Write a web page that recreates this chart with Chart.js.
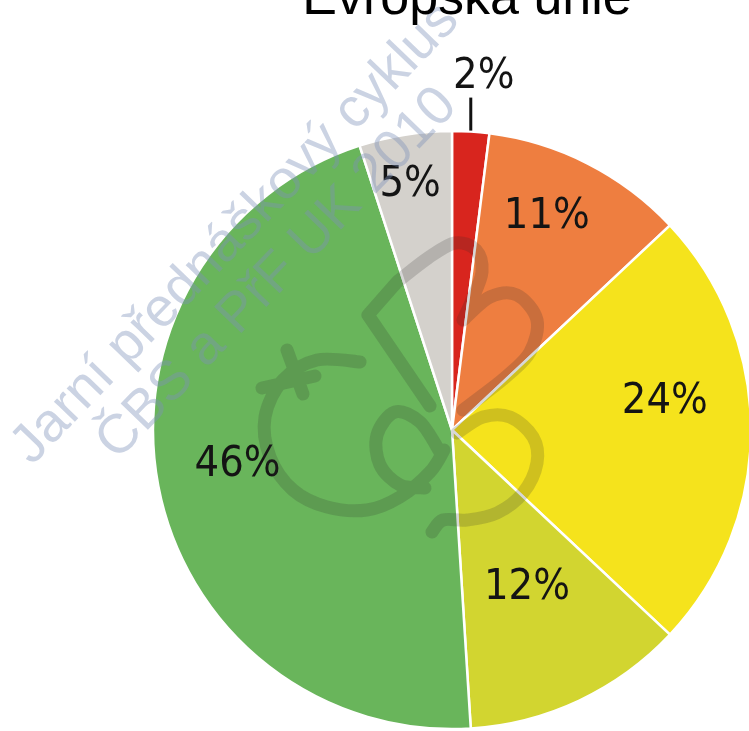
<!DOCTYPE html>
<html>
<head>
<meta charset="utf-8">
<script src="https://cdn.jsdelivr.net/npm/chart.js@4/dist/chart.umd.min.js"></script>
<style>
  html, body { margin: 0; padding: 0; background: #fff; overflow: hidden; }
  canvas { display: block; }
</style>
</head>
<body>
<canvas id="pie" width="749" height="731"></canvas>
<script>
// Data
const chartTitle = 'Evropská unie';
const categories = ['červená', 'oranžová', 'žlutá', 'žlutozelená', 'zelená', 'šedá'];
const shares = [2, 11, 24, 12, 46, 5];
const sliceColors = ['#d8251e', '#ee7e40', '#f5e31c', '#d2d530', '#69b55b', '#d4d1cc'];
const shareLabels = shares.map(v => v + '%');

// Label placement per slice: [fraction of radius, angle shift in degrees]; null = outside with leader
const labelPlacement = [null, [0.795, -3.5], [0.72, -8.7], [0.57, -0.9], [0.724, 2.8], [0.848, -0.5]];

const deg = Math.PI / 180;

function drawPct(ctx, text, cx, cy) {
  // condensed sans, vertically centred on the digits
  const size = 43;
  ctx.save();
  ctx.font = size + 'px "DejaVu Sans"';
  ctx.textAlign = 'center';
  ctx.textBaseline = 'alphabetic';
  ctx.fillStyle = '#141414';
  ctx.translate(cx, cy + size * 0.364);
  ctx.scale(0.9, 1);
  ctx.fillText(text, 0, 0);
  ctx.restore();
}

const pieLabels = {
  id: 'pieLabels',
  afterDatasetsDraw(chart) {
    const ctx = chart.ctx;
    const meta = chart.getDatasetMeta(0);
    meta.data.forEach((arc, i) => {
      const p = arc.getProps(['x', 'y', 'startAngle', 'endAngle', 'outerRadius'], true);
      const mid = (p.startAngle + p.endAngle) / 2;
      const place = labelPlacement[i];
      if (place) {
        const a = mid + place[1] * deg;
        const r = p.outerRadius * place[0];
        drawPct(ctx, shareLabels[i], p.x + Math.cos(a) * r, p.y + Math.sin(a) * r);
      } else {
        // small slice: leader line going up, label above it
        const lx = p.x + Math.cos(mid) * p.outerRadius;
        const ly = p.y + Math.sin(mid) * p.outerRadius - 1;
        ctx.save();
        ctx.strokeStyle = '#111';
        ctx.lineWidth = 3;
        ctx.beginPath();
        ctx.moveTo(lx, ly);
        ctx.lineTo(lx, ly - 33);
        ctx.stroke();
        ctx.restore();
        drawPct(ctx, shareLabels[i], lx + 13, ly - 58);
      }
    });
  }
};

function smoothPath(ctx, ox, oy, pts) {
  ctx.moveTo(ox + pts[0][0], oy + pts[0][1]);
  for (let i = 0; i < pts.length - 1; i++) {
    const p0 = pts[i - 1] || pts[i], p1 = pts[i], p2 = pts[i + 1], p3 = pts[i + 2] || p2;
    ctx.bezierCurveTo(
      ox + p1[0] + (p2[0] - p0[0]) / 6, oy + p1[1] + (p2[1] - p0[1]) / 6,
      ox + p2[0] - (p3[0] - p1[0]) / 6, oy + p2[1] - (p3[1] - p1[1]) / 6,
      ox + p2[0], oy + p2[1]);
  }
}

// Society emblem and event caption laid over the chart
const overlay = {
  id: 'overlay',
  afterDraw(chart) {
    const ctx = chart.ctx;
    const c = chart.getDatasetMeta(0).data[0];
    const ox = c.x, oy = c.y;

    ctx.save();
    ctx.strokeStyle = 'rgba(45,45,45,0.19)';
    ctx.lineWidth = 13;
    ctx.lineCap = 'round';
    ctx.lineJoin = 'round';
    ctx.beginPath();
    // big open ring on the left
    smoothPath(ctx, ox, oy, [[-92,-68],[-135,-70],[-169,-50],[-187,-13],[-182,27],[-159,60],[-125,77],[-85,80],[-52,67],[-22,42],[-8,20]]);
    // little loop inside the ring
    smoothPath(ctx, ox, oy, [[-12,22],[-32,-8],[-57,-18],[-75,5],[-72,35],[-52,55],[-27,58]]);
    // sprout
    ctx.moveTo(ox - 165, oy - 80); ctx.lineTo(ox - 149, oy - 36);
    ctx.moveTo(ox - 190, oy - 42); ctx.lineTo(ox - 137, oy - 54);
    // stem with bent corner
    ctx.moveTo(ox - 22, oy - 24); ctx.lineTo(ox - 84, oy - 115); ctx.lineTo(ox - 55, oy - 148);
    smoothPath(ctx, ox, oy, [[-55,-148],[-24,-172],[3,-187],[24,-180],[30,-158],[20,-130],[11,-110]]);
    // upper right lobe
    smoothPath(ctx, ox, oy, [[11,-110],[38,-133],[65,-135],[85,-110],[78,-78],[56,-55],[31,-35],[11,-20]]);
    // lower right lobe
    smoothPath(ctx, ox, oy, [[5,3],[31,-13],[58,-13],[81,7],[85,33],[71,63],[45,83],[15,90],[-9,90],[-20,102]]);
    ctx.stroke();
    ctx.restore();

    ctx.save();
    ctx.translate(268, 265);
    ctx.rotate(-46 * deg);
    ctx.font = '55px "Liberation Sans", Arial, sans-serif';
    ctx.textAlign = 'center';
    ctx.textBaseline = 'alphabetic';
    ctx.fillStyle = 'rgba(125,145,185,0.4)';
    ctx.fillText('Jarní přednáškový cyklus', 0, -30);
    ctx.fillText('ČBS a PřF UK 2010', 0, 28);
    ctx.restore();

    ctx.save();
    ctx.font = '52px "Liberation Sans", Arial, sans-serif';
    ctx.textAlign = 'center';
    ctx.textBaseline = 'alphabetic';
    ctx.fillStyle = '#000';
    ctx.fillText(chartTitle, 467, 14);
    ctx.restore();
  }
};

new Chart(document.getElementById('pie'), {
  type: 'pie',
  data: {
    labels: categories,
    datasets: [{
      data: shares,
      backgroundColor: sliceColors,
      borderColor: '#ffffff',
      borderWidth: 2.5,
      radius: 299
    }]
  },
  options: {
    responsive: false,
    animation: false,
    events: [],
    layout: { padding: { left: 155, right: 0, top: 129, bottom: 0 } },
    plugins: {
      legend: { display: false },
      tooltip: { enabled: false },
      title: { display: false }
    }
  },
  plugins: [pieLabels, overlay]
});
</script>
</body>
</html>
